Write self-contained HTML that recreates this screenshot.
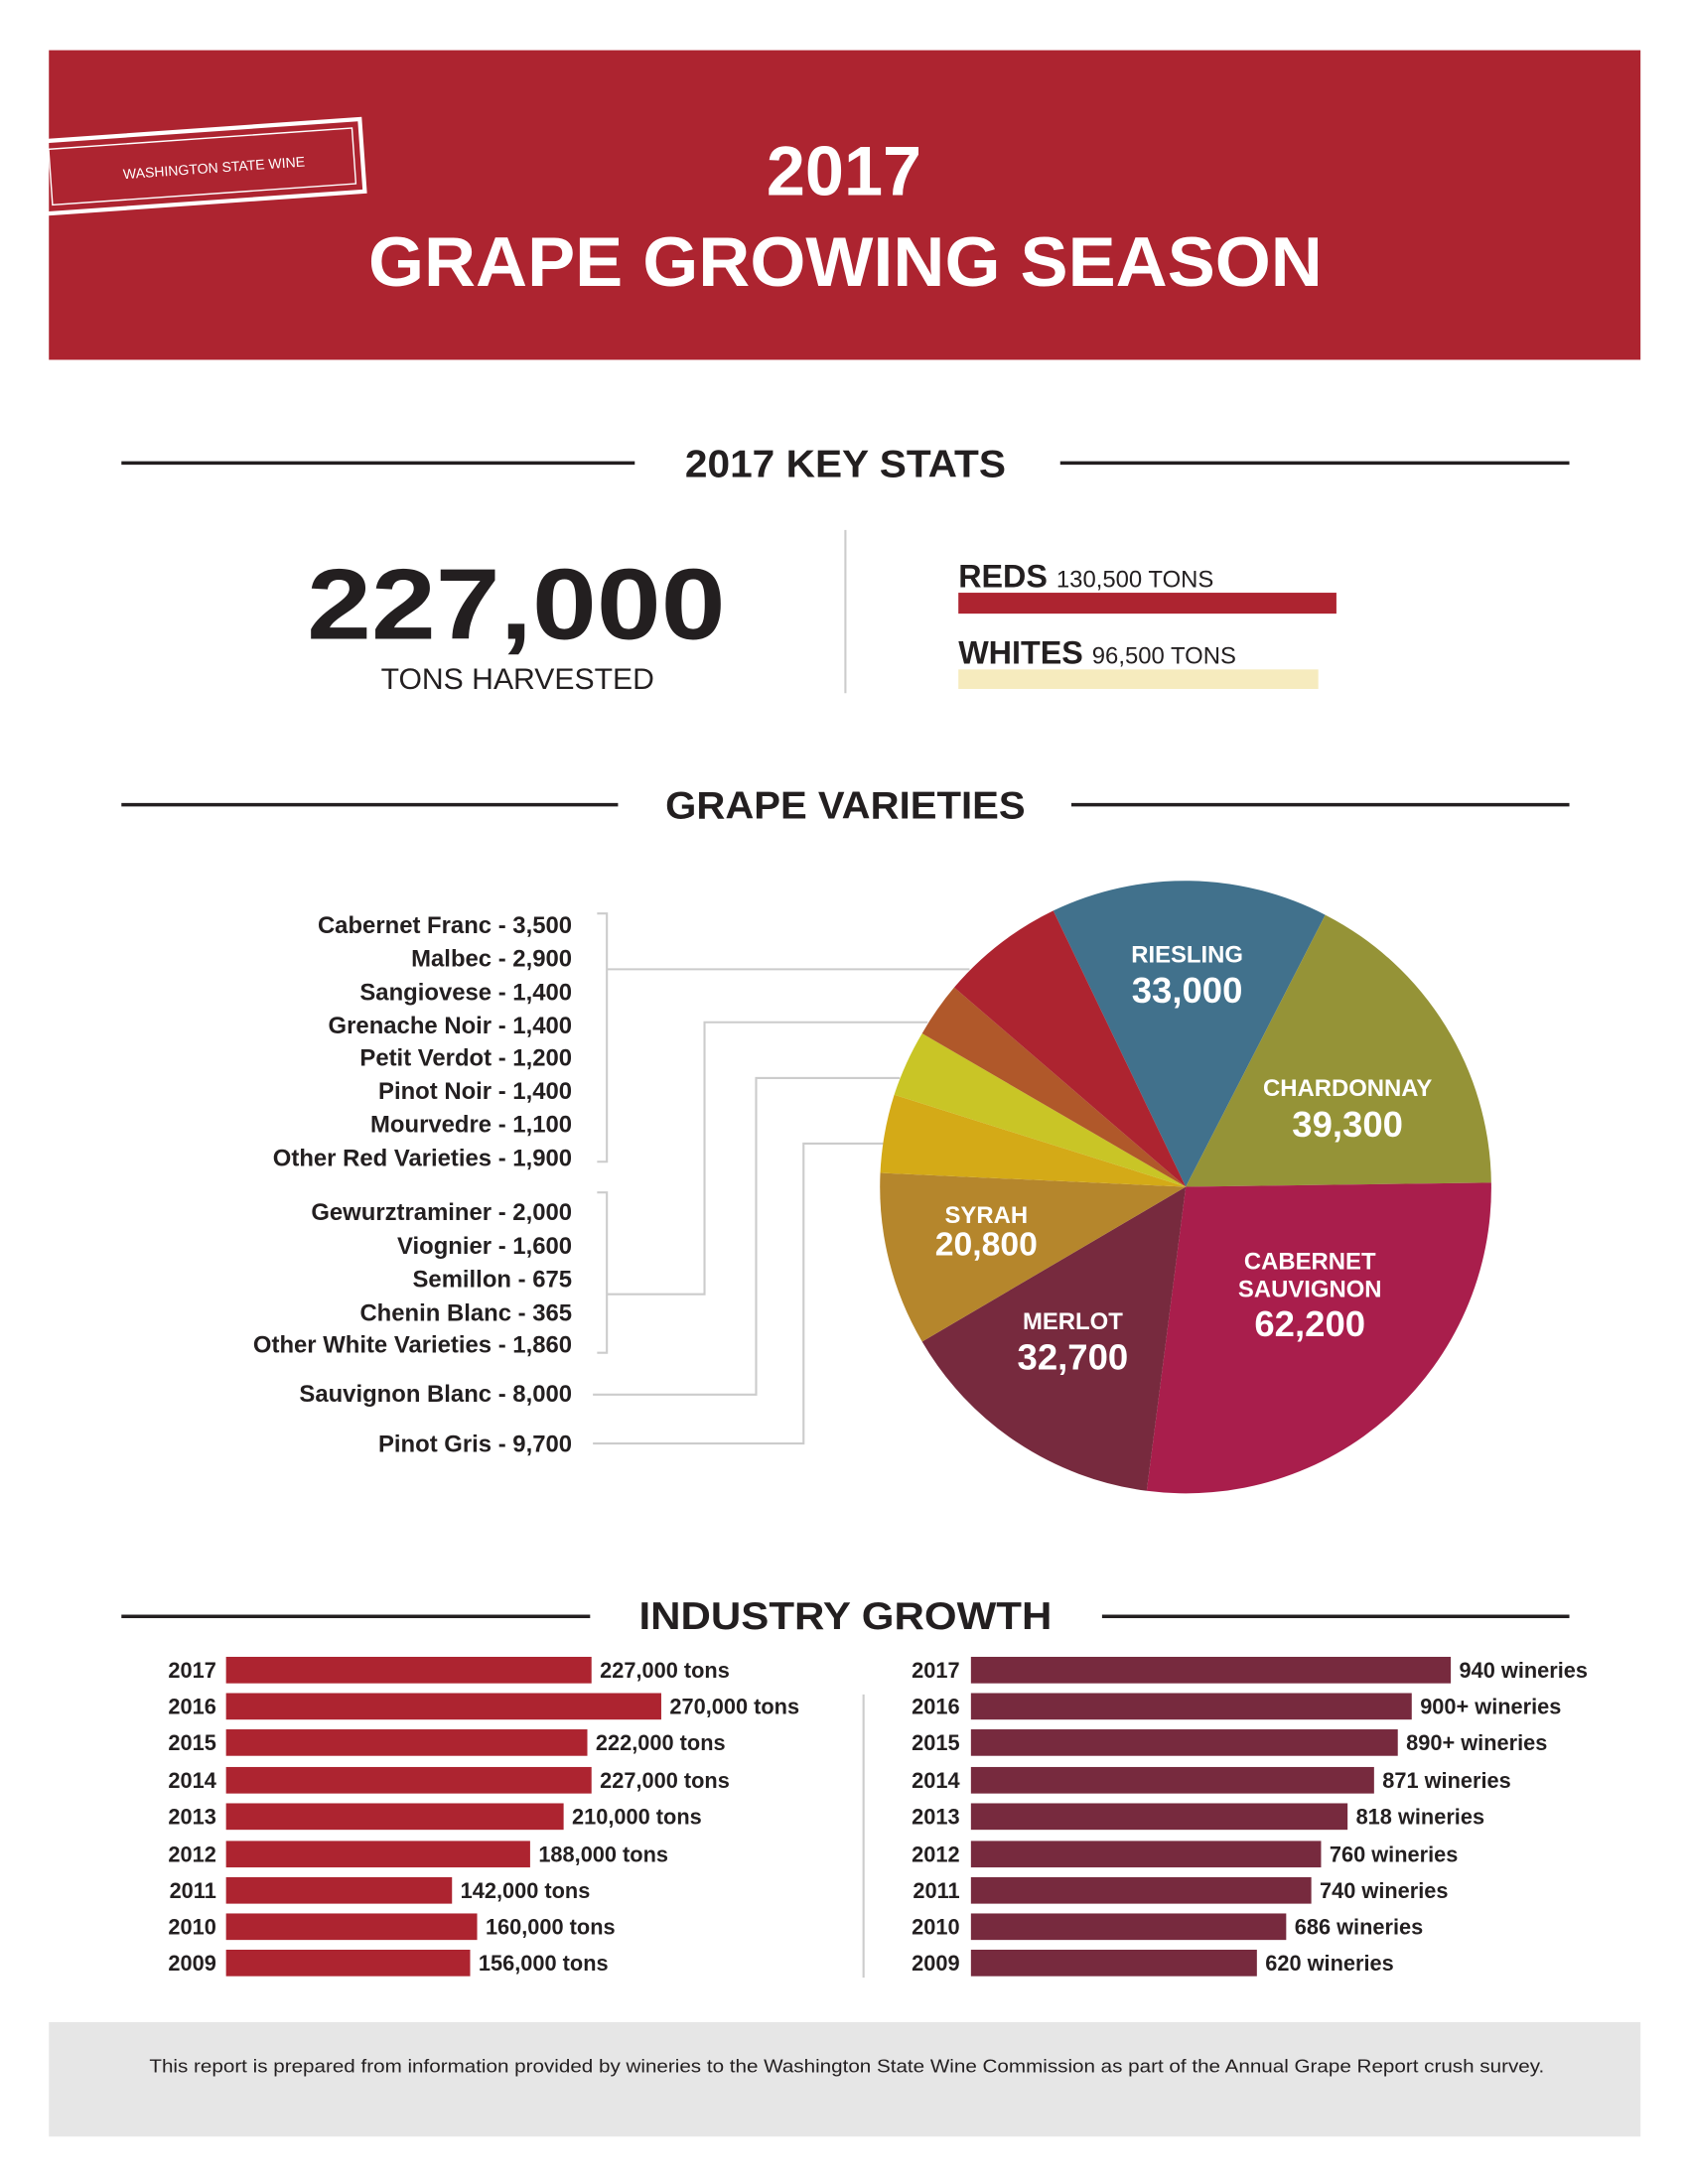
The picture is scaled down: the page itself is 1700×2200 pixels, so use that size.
<!DOCTYPE html>
<html><head><meta charset="utf-8"><style>
html,body{margin:0;padding:0;background:#fff}
svg{display:block}
text{font-family:"Liberation Sans",sans-serif}
</style></head><body>
<svg width="1700" height="2200" viewBox="0 0 1210 1566" xmlns="http://www.w3.org/2000/svg">
<rect width="1210" height="1566" fill="#fff"/>
<!-- banner -->
<rect x="35" y="36" width="1141" height="222" fill="#ad2430"/>
<g transform="rotate(-4 150 120)">
<rect x="30" y="93" width="230" height="52" fill="none" stroke="#fff" stroke-width="3"/>
<rect x="36" y="99" width="218" height="40" fill="none" stroke="#fff" stroke-width="1"/>
<text x="88" y="124" font-size="10" fill="#fff">WASHINGTON STATE WINE</text>
</g>
<text x="605" y="140" text-anchor="middle" font-size="50" font-weight="bold" fill="#fff">2017</text>
<text x="606" y="205" text-anchor="middle" font-size="50" font-weight="bold" fill="#fff" textLength="684" lengthAdjust="spacingAndGlyphs">GRAPE GROWING SEASON</text>

<!-- key stats -->
<g stroke="#231f20" stroke-width="2.5">
<line x1="87" y1="332" x2="455" y2="332"/><line x1="760" y1="332" x2="1125" y2="332"/>
<line x1="87" y1="577" x2="443" y2="577"/><line x1="768" y1="577" x2="1125" y2="577"/>
<line x1="87" y1="1159" x2="423" y2="1159"/><line x1="790" y1="1159" x2="1125" y2="1159"/>
</g>
<g font-weight="bold" fill="#231f20" font-size="28" text-anchor="middle">
<text x="606" y="342" textLength="230" lengthAdjust="spacingAndGlyphs">2017 KEY STATS</text>
<text x="606" y="587" textLength="258" lengthAdjust="spacingAndGlyphs">GRAPE VARIETIES</text>
<text x="606" y="1168" textLength="296" lengthAdjust="spacingAndGlyphs">INDUSTRY GROWTH</text>
</g>
<text x="370" y="458" text-anchor="middle" font-size="72" font-weight="bold" fill="#231f20" textLength="300" lengthAdjust="spacingAndGlyphs">227,000</text>
<text x="371" y="494" text-anchor="middle" font-size="21" fill="#231f20" textLength="196" lengthAdjust="spacingAndGlyphs">TONS HARVESTED</text>
<line x1="606" y1="380" x2="606" y2="497" stroke="#ccc" stroke-width="1.5"/>
<text x="687" y="421" font-size="23" font-weight="bold" fill="#231f20">REDS <tspan font-size="17" font-weight="normal">130,500 TONS</tspan></text>
<rect x="687" y="425" width="271" height="15" fill="#ad2430"/>
<text x="687" y="476" font-size="23" font-weight="bold" fill="#231f20">WHITES <tspan font-size="17" font-weight="normal">96,500 TONS</tspan></text>
<rect x="687" y="480" width="258" height="14" fill="#f6ebbe"/>

<!-- leaders -->
<g fill="none" stroke="#ccc" stroke-width="1.5">
<path d="M428 655 H435 V833 H428"/>
<path d="M435 695 H695"/>
<path d="M428 855 H435 V970 H428"/>
<path d="M435 928 H505 V733 H665"/>
<path d="M425 1000 H542 V773 H645"/>
<path d="M425 1035 H576 V820 H636"/>
</g>
<g font-size="17" font-weight="bold" fill="#231f20" text-anchor="end">
<text x="410" y="669">Cabernet Franc - 3,500</text>
<text x="410" y="693">Malbec - 2,900</text>
<text x="410" y="717">Sangiovese - 1,400</text>
<text x="410" y="741">Grenache Noir - 1,400</text>
<text x="410" y="764">Petit Verdot - 1,200</text>
<text x="410" y="788">Pinot Noir - 1,400</text>
<text x="410" y="812">Mourvedre - 1,100</text>
<text x="410" y="836">Other Red Varieties - 1,900</text>
<text x="410" y="875">Gewurztraminer - 2,000</text>
<text x="410" y="899">Viognier - 1,600</text>
<text x="410" y="923">Semillon - 675</text>
<text x="410" y="947">Chenin Blanc - 365</text>
<text x="410" y="970">Other White Varieties - 1,860</text>
<text x="410" y="1005">Sauvignon Blanc - 8,000</text>
<text x="410" y="1041">Pinot Gris - 9,700</text>
</g>

<!-- pie -->
<g>
<path d="M850 851 L755 653 A219 219 0 0 1 950 656 Z" fill="#41718c"/>
<path d="M850 851 L950 656 A219 219 0 0 1 1069 848 Z" fill="#959337"/>
<path d="M850 851 L1069 848 A219 219 0 0 1 822 1069 Z" fill="#a91e4c"/>
<path d="M850 851 L822 1069 A219 219 0 0 1 661 962 Z" fill="#772a3e"/>
<path d="M850 851 L661 962 A219 219 0 0 1 631 841 Z" fill="#b5862c"/>
<path d="M850 851 L631 841 A219 219 0 0 1 641 785 Z" fill="#d4aa17"/>
<path d="M850 851 L641 785 A219 219 0 0 1 661 741 Z" fill="#c9c526"/>
<path d="M850 851 L661 741 A219 219 0 0 1 684 708 Z" fill="#b0582a"/>
<path d="M850 851 L684 708 A219 219 0 0 1 755 653 Z" fill="#ad2430"/>
</g>
<g fill="#fff" font-weight="bold" text-anchor="middle">
<text x="851" y="690" font-size="17">RIESLING</text>
<text x="851" y="719" font-size="26">33,000</text>
<text x="966" y="786" font-size="17">CHARDONNAY</text>
<text x="966" y="815" font-size="26">39,300</text>
<text x="707" y="877" font-size="17">SYRAH</text>
<text x="707" y="900" font-size="24">20,800</text>
<text x="939" y="910" font-size="17">CABERNET</text>
<text x="939" y="930" font-size="17">SAUVIGNON</text>
<text x="939" y="958" font-size="26">62,200</text>
<text x="769" y="953" font-size="17">MERLOT</text>
<text x="769" y="982" font-size="26">32,700</text>
</g>

<!-- bars -->
<line x1="619" y1="1215" x2="619" y2="1418" stroke="#ccc" stroke-width="1.5"/>
<g font-size="15.5" font-weight="bold" fill="#231f20">
<g fill="#ad2430">
<rect x="162" y="1188" width="262" height="19"/><rect x="162" y="1214" width="312" height="19"/>
<rect x="162" y="1240" width="259" height="19"/><rect x="162" y="1267" width="262" height="19"/>
<rect x="162" y="1293" width="242" height="19"/><rect x="162" y="1320" width="218" height="19"/>
<rect x="162" y="1346" width="162" height="19"/><rect x="162" y="1372" width="180" height="19"/>
<rect x="162" y="1398" width="175" height="19"/>
</g>
<g fill="#772a3e">
<rect x="696" y="1188" width="344" height="19"/><rect x="696" y="1214" width="316" height="19"/>
<rect x="696" y="1240" width="306" height="19"/><rect x="696" y="1267" width="289" height="19"/>
<rect x="696" y="1293" width="270" height="19"/><rect x="696" y="1320" width="251" height="19"/>
<rect x="696" y="1346" width="244" height="19"/><rect x="696" y="1372" width="226" height="19"/>
<rect x="696" y="1398" width="205" height="19"/>
</g>
<g text-anchor="end">
<text x="155" y="1203">2017</text><text x="155" y="1229">2016</text><text x="155" y="1255">2015</text>
<text x="155" y="1282">2014</text><text x="155" y="1308">2013</text><text x="155" y="1335">2012</text>
<text x="155" y="1361">2011</text><text x="155" y="1387">2010</text><text x="155" y="1413">2009</text>
<text x="688" y="1203">2017</text><text x="688" y="1229">2016</text><text x="688" y="1255">2015</text>
<text x="688" y="1282">2014</text><text x="688" y="1308">2013</text><text x="688" y="1335">2012</text>
<text x="688" y="1361">2011</text><text x="688" y="1387">2010</text><text x="688" y="1413">2009</text>
</g>
<text x="430" y="1203">227,000 tons</text><text x="480" y="1229">270,000 tons</text>
<text x="427" y="1255">222,000 tons</text><text x="430" y="1282">227,000 tons</text>
<text x="410" y="1308">210,000 tons</text><text x="386" y="1335">188,000 tons</text>
<text x="330" y="1361">142,000 tons</text><text x="348" y="1387">160,000 tons</text>
<text x="343" y="1413">156,000 tons</text>
<text x="1046" y="1203">940 wineries</text><text x="1018" y="1229">900+ wineries</text>
<text x="1008" y="1255">890+ wineries</text><text x="991" y="1282">871 wineries</text>
<text x="972" y="1308">818 wineries</text><text x="953" y="1335">760 wineries</text>
<text x="946" y="1361">740 wineries</text><text x="928" y="1387">686 wineries</text>
<text x="907" y="1413">620 wineries</text>
</g>

<!-- footer -->
<rect x="35" y="1450" width="1141" height="82" fill="#e6e6e6"/>
<text x="607" y="1486" text-anchor="middle" font-size="13" fill="#231f20" textLength="1000" lengthAdjust="spacingAndGlyphs">This report is prepared from information provided by wineries to the Washington State Wine Commission as part of the Annual Grape Report crush survey.</text>
</svg>
</body></html>
